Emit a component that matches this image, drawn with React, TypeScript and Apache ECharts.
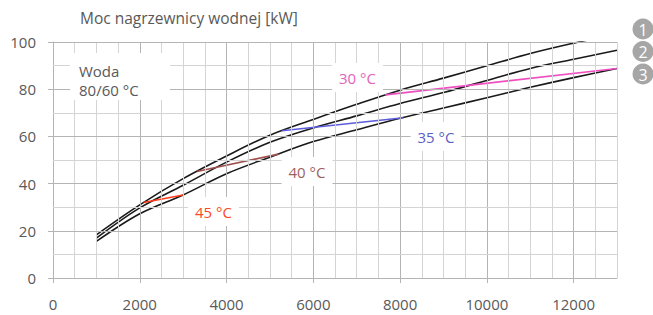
import React, { useEffect, useRef } from 'react';
import * as echarts from 'echarts';

const FONT = '"Open Sans", "Noto Sans", sans-serif';

// Air flow [m3/h] sample points for the three heater curves
const xValues = [1000, 2000, 3000, 4000, 5000, 6000, 7000, 8000, 9000, 10000, 11000, 12000, 13000];
const curve1 = [18.3, 31.0, 42.1, 51.7, 60.5, 67.2, 73.6, 79.6, 84.7, 89.9, 95.1, 99.5, 103.5];
const curve2 = [16.9, 29.7, 39.3, 49.1, 57.5, 63.6, 68.7, 73.9, 78.6, 83.7, 88.8, 92.7, 96.5];
const curve3 = [15.5, 27.2, 35.2, 44.2, 51.2, 57.8, 62.8, 67.7, 72.0, 76.4, 80.8, 84.9, 88.8];

// Outlet air temperature iso-lines
const t45 = [[2090, 32.0], [3000, 35.2]];
const t40 = [[3318, 45.1], [5198, 52.5]];
const t35 = [[5276, 62.4], [8079, 67.9]];
const t30 = [[7657, 77.6], [13000, 88.8]];

const xTicks = [0, 2000, 4000, 6000, 8000, 10000, 12000];
const yTicks = [0, 20, 40, 60, 80, 100];

const title = 'Moc nagrzewnicy wodnej [kW]';
const boxLines = ['Woda', '80/60 °C'];
const tempLabels = ['30 °C', '35 °C', '40 °C', '45 °C'];
const legendNums = ['1', '2', '3'];

const TEXT = '#595959';
const MAJOR = '#b4b4b4';
const MINOR = '#d4d4d4';

export default function App() {
  const ref = useRef<HTMLDivElement>(null);
  useEffect(() => {
    if (!ref.current) return;
    const chart = echarts.init(ref.current, undefined, { renderer: 'svg' });
    const pts = (ys: number[]) => xValues.map((x, i) => [x, ys[i]]);
    const blackLine = (name: string, ys: number[]) => ({
      name, type: 'line', data: pts(ys), smooth: 0.35, showSymbol: false, symbol: 'none',
      lineStyle: { color: '#1a1a1a', width: 1.6 }, z: 3, clip: true,
    });
    const tLine = (name: string, d: number[][], color: string) => ({
      name, type: 'line', data: d, showSymbol: false, symbol: 'none',
      lineStyle: { color, width: 1.6 }, z: 4, clip: true,
    });
    const tempLabel = (text: string, x: number, y: number, color: string) => ({
      type: 'text', x, y, z: 100,
      style: {
        text, fill: color, fontSize: 15, fontFamily: FONT, align: 'center', verticalAlign: 'middle',
        backgroundColor: '#fff', padding: [7, 7],
      },
    });
    const legendItem = (n: string, y: number) => ({
      type: 'group', x: 643, y, z: 100,
      children: [
        { type: 'circle', shape: { cx: 0, cy: 0, r: 10.5 }, style: { fill: '#a6a6a6' } },
        { type: 'text', x: 0, y: 0.5, style: { text: n, fill: '#fff', fontSize: 16, fontFamily: FONT, align: 'center', verticalAlign: 'middle' } },
      ],
    });
    const fmt = (v: number) => String(v);

    // grid line positions (every 500 on x, every 10 on y), drawn via the axes' scales
    const gridLines: any[] = [];
    for (let v = 0; v <= 13000; v += 500) {
      gridLines.push({ xAxis: v, lineStyle: { color: v % 2000 === 0 ? MAJOR : MINOR, type: 'solid', width: 1 } });
    }
    for (let v = 0; v <= 100; v += 10) {
      gridLines.push({ yAxis: v, lineStyle: { color: v % 20 === 0 ? MAJOR : MINOR, type: 'solid', width: 1 } });
    }

    const gridRect = { left: 53, right: 36, top: 42, bottom: 37, containLabel: false };
    const option: any = {
      animation: false,
      backgroundColor: '#ffffff',
      textStyle: { fontFamily: FONT },
      grid: [{ ...gridRect }, { ...gridRect }],
      xAxis: [
        {
          gridIndex: 0, type: 'value', min: 0, max: 13000, interval: 500, position: 'bottom',
          axisLine: { show: true, lineStyle: { color: MAJOR, width: 1 } },
          axisTick: { show: false },
          axisLabel: { show: false },
          splitLine: { show: false },
        },
        {
          gridIndex: 1, type: 'value', min: 0, max: 13000, interval: 2000, position: 'bottom',
          axisLine: { show: false },
          axisTick: { show: true, customValues: xTicks, length: 5, lineStyle: { color: MAJOR } },
          axisLabel: { customValues: xTicks, formatter: fmt, margin: 18, color: TEXT, fontSize: 15, fontFamily: FONT },
          splitLine: { show: false },
        },
      ],
      yAxis: [
        {
          gridIndex: 0, type: 'value', min: 0, max: 100, interval: 10, position: 'left',
          axisLine: { show: true, lineStyle: { color: MAJOR, width: 1 } },
          axisTick: { show: false },
          axisLabel: { show: false },
          splitLine: { show: false },
        },
        {
          gridIndex: 1, type: 'value', min: 0, max: 100, interval: 20, position: 'left',
          axisLine: { show: false },
          axisTick: { show: true, customValues: yTicks, length: 5, lineStyle: { color: MAJOR } },
          axisLabel: { customValues: yTicks, formatter: fmt, margin: 17, color: TEXT, fontSize: 15, fontFamily: FONT },
          splitLine: { show: false },
        },
      ],
      series: [
        {
          name: 'grid', type: 'line', data: pts(curve3), symbol: 'none', showSymbol: false, silent: true,
          lineStyle: { color: 'rgba(0,0,0,0)', width: 1 }, z: 1,
          markLine: {
            silent: true, symbol: ['none', 'none'], label: { show: false }, animation: false,
            lineStyle: { type: 'solid', width: 1, color: MINOR },
            emphasis: { disabled: true },
            data: gridLines,
          },
        },
        blackLine('1', curve1),
        blackLine('2', curve2),
        blackLine('3', curve3),
        tLine('45 °C', t45, '#ff3b1a'),
        tLine('40 °C', t40, '#a0504f'),
        tLine('35 °C', t35, '#5c5cdc'),
        tLine('30 °C', t30, '#ee4fc0'),
      ],
      graphic: [
        { type: 'text', x: 80, y: 18, z: 100, style: { text: title, fill: TEXT, fontSize: 15.5, fontFamily: FONT, verticalAlign: 'middle' } },
        { type: 'rect', z: 99, shape: { x: 70, y: 53, width: 100, height: 47 }, style: { fill: '#fff' } },
        { type: 'text', x: 79, y: 70.5, z: 100, style: { text: boxLines[0], fill: TEXT, fontSize: 15, fontFamily: FONT, verticalAlign: 'middle' } },
        { type: 'text', x: 79, y: 90, z: 100, style: { text: boxLines[1], fill: TEXT, fontSize: 15, fontFamily: FONT, verticalAlign: 'middle' } },
        tempLabel(tempLabels[0], 357.5, 77.5, '#e262b9'),
        tempLabel(tempLabels[1], 436, 136.5, '#5a5fc6'),
        tempLabel(tempLabels[2], 307, 171.5, '#9e5f5f'),
        tempLabel(tempLabels[3], 213.5, 211.5, '#fa4a2a'),
        legendItem(legendNums[0], 29),
        legendItem(legendNums[1], 51.5),
        legendItem(legendNums[2], 74),
      ],
    };
    chart.setOption(option);
    return () => chart.dispose();
  }, []);
  return <div ref={ref} style={{ position: 'fixed', left: 0, top: 0, width: 653, height: 315 }} />;
}
